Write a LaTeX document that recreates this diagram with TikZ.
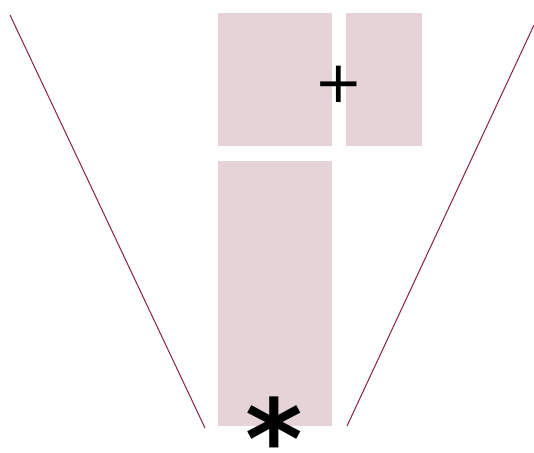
\documentclass[tikz,border=0pt]{standalone}
\usepackage{fontspec}
\newfontfamily\djv{DejaVu Sans}
\definecolor{boxpink}{HTML}{E6D3D7}
\definecolor{linered}{HTML}{8B2040}
\begin{document}
\begin{tikzpicture}[x=1pt,y=-1pt,
  panel/.style={fill=boxpink, draw=none},
  ray/.style={draw=linered, line width=1pt}]
\useasboundingbox (0,0) rectangle (534,452);
\fill[panel] (218,13) rectangle (332,146);
\fill[panel] (346,13) rectangle (422,146);
\fill[panel] (218,161) rectangle (332,426);
\coordinate (l1) at (10,15);
\coordinate (l2) at (205,428);
\coordinate (r1) at (534,25);
\coordinate (r2) at (347,426);
\draw[ray] (l1) -- (l2);
\draw[ray] (r1) -- (r2);
\node[inner sep=0pt, font=\djv\fontsize{58}{58}\selectfont] (plus) at (339,84) {+};
\node[inner sep=0pt, anchor=north, font=\djv\bfseries\fontsize{110}{110}\selectfont] (star) at (274,397) {*};
\end{tikzpicture}
\end{document}
